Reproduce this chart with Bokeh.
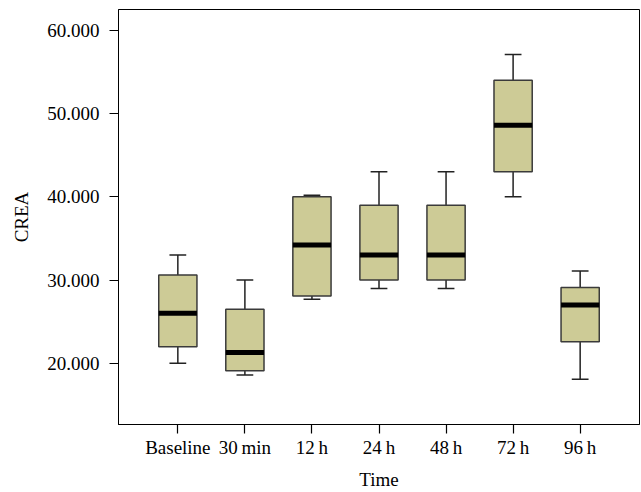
from bokeh.plotting import figure
from bokeh.models import FactorRange, Range1d, FixedTicker
from bokeh.embed import file_html
from bokeh.resources import INLINE

categories = ["Baseline", "30\u2009min", "12\u2009h", "24\u2009h", "48\u2009h", "72\u2009h", "96\u2009h"]
lower_whisker = [20.0, 18.6, 27.7, 29.0, 29.0, 40.0, 18.1]
q1 = [22.0, 19.1, 28.1, 30.0, 30.0, 43.0, 22.6]
median = [26.0, 21.3, 34.2, 33.0, 33.0, 48.6, 27.0]
q3 = [30.6, 26.5, 40.0, 39.0, 39.0, 54.0, 29.1]
upper_whisker = [33.0, 30.0, 40.2, 43.0, 43.0, 57.1, 31.1]
ytick_values = [20, 30, 40, 50, 60]
ytick_labels = ["20.000", "30.000", "40.000", "50.000", "60.000"]

FONT = "Liberation Serif"
FS = "19px"

p = figure(x_range=FactorRange(*categories, range_padding=0.11),
           y_range=Range1d(12.65, 62.5),
           width=640, height=492, output_backend="svg", toolbar_location=None,
           min_border_left=118, min_border_top=9, min_border_right=1, min_border_bottom=10)

p.xgrid.visible = False
p.ygrid.visible = False
p.outline_line_color = "black"
p.outline_line_width = 1
p.background_fill_color = "white"

box_w = 0.57
cap = 0.125

# whisker stems
p.segment(x0=categories, y0=q3, x1=categories, y1=upper_whisker, line_color="#222222", line_width=1.5)
p.segment(x0=categories, y0=q1, x1=categories, y1=lower_whisker, line_color="#222222", line_width=1.5)
# caps
p.segment(x0=[(c, -cap) for c in categories], y0=upper_whisker,
          x1=[(c, cap) for c in categories], y1=upper_whisker, line_color="#222222", line_width=1.5)
p.segment(x0=[(c, -cap) for c in categories], y0=lower_whisker,
          x1=[(c, cap) for c in categories], y1=lower_whisker, line_color="#222222", line_width=1.5)
# boxes
p.vbar(x=categories, width=box_w, top=q3, bottom=q1, fill_color="#cdcb96",
       line_color="#3a3a3a", line_width=1.5)
# medians
p.rect(x=categories, y=median, width=box_w, height=5, height_units="screen",
       fill_color="black", line_color=None)

p.yaxis.ticker = FixedTicker(ticks=ytick_values)
p.yaxis.major_label_overrides = {v: s for v, s in zip(ytick_values, ytick_labels)}

for ax in (p.xaxis[0], p.yaxis[0]):
    ax.axis_line_color = "black"
    ax.axis_line_width = 1
    ax.major_tick_line_color = "black"
    ax.major_tick_line_width = 1.2
    ax.major_tick_out = 9
    ax.major_tick_in = 0
    ax.minor_tick_line_color = None
    ax.major_label_text_font = FONT
    ax.major_label_text_font_size = FS
    ax.major_label_text_color = "black"
    ax.axis_label_text_font = FONT
    ax.axis_label_text_font_size = FS
    ax.axis_label_text_font_style = "normal"
    ax.axis_label_text_color = "black"

p.xaxis.axis_label = "Time"
p.yaxis.axis_label = "CREA"
p.yaxis.major_label_standoff = 10
p.yaxis.axis_label_standoff = 12
p.xaxis.major_label_standoff = 3
p.xaxis.axis_label_standoff = 8
p.xaxis.group_text_font_size = FS

open("out.html", "w").write(file_html(p, INLINE))
